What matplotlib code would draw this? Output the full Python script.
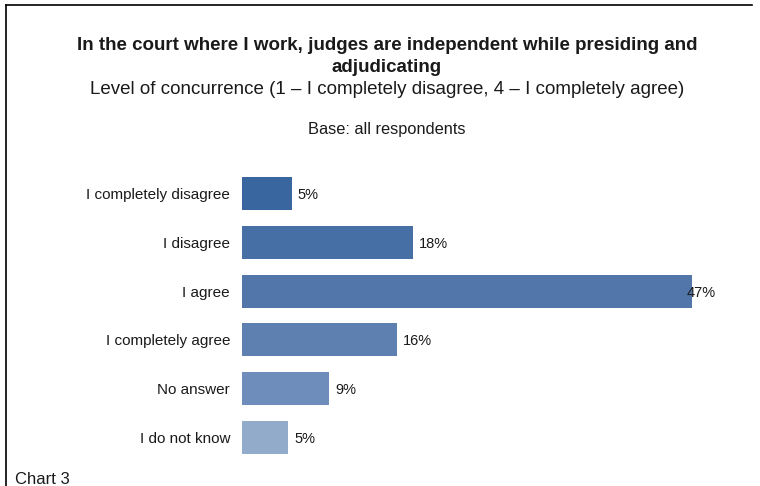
import matplotlib.pyplot as plt
from matplotlib.lines import Line2D

# ── Data ────────────────────────────────────────────────────────────────────
categories = [
    'I completely disagree',
    'I disagree',
    'I agree',
    'I completely agree',
    'No answer',
    'I do not know',
]
values = [5.2, 17.9, 47.0, 16.2, 9.1, 4.8]
value_labels = ['5%', '18%', '47%', '16%', '9%', '5%']
bar_colors = ['#3a66a0', '#4670a5', '#5276aa', '#5d80b0', '#6e8dba', '#93abcb']

plt.rcParams['font.family'] = ['Liberation Sans', 'DejaVu Sans']
text_color = '#1a1a1a'

W, H = 760, 486
fig = plt.figure(figsize=(W / 100, H / 100), dpi=100)

# ── Frame (top and left border) ─────────────────────────────────────────────
fig.add_artist(Line2D([6 / W, 752 / W], [1 - 5 / H, 1 - 5 / H],
                      color='black', lw=1.2, transform=fig.transFigure))
fig.add_artist(Line2D([6 / W, 6 / W], [1 - 5 / H, 0],
                      color='black', lw=1.2, transform=fig.transFigure))

# ── Titles (baseline positions) ─────────────────────────────────────────────
cx = 387 / W
fig.text(cx, 1 - 50 / H,
         'In the court where I work, judges are independent while presiding and',
         ha='center', va='baseline', fontsize=13.5, fontweight='bold', color=text_color)
fig.text(cx, 1 - 72 / H, 'adjudicating',
         ha='center', va='baseline', fontsize=13.5, fontweight='bold', color=text_color)
fig.text(cx, 1 - 94 / H,
         'Level of concurrence (1 \u2013 I completely disagree, 4 \u2013 I completely agree)',
         ha='center', va='baseline', fontsize=13.5, color=text_color)
fig.text(cx, 1 - 134 / H, 'Base: all respondents',
         ha='center', va='baseline', fontsize=11.8, color=text_color)
fig.text(15 / W, 1 - 484 / H, 'Chart 3',
         ha='left', va='baseline', fontsize=12, color=text_color)

# ── Bars ────────────────────────────────────────────────────────────────────
ax = fig.add_axes([242 / W, 0.0496, 478.7 / W, 0.6025])
y_pos = list(range(len(categories)))
bars = ax.barh(y_pos, values, height=0.676, color=bar_colors)

ax.set_xlim(0, 50)
ax.set_ylim(len(categories) - 0.5, -0.5)
ax.set_yticks(y_pos)
ax.set_yticklabels(categories, fontsize=11, color=text_color, va='center_baseline')
ax.tick_params(axis='y', length=0, pad=8.6)
ax.set_xticks([])
for s in ax.spines.values():
    s.set_visible(False)
ax.patch.set_alpha(0)

# ── Value labels ────────────────────────────────────────────────────────────
max_v = max(values)
for bar, val, lab in zip(bars, values, value_labels):
    dx = -5 if val == max_v else 6
    ax.annotate(lab, (val, bar.get_y() + bar.get_height() / 2),
                xytext=(dx * 0.72, 0), textcoords='offset points',
                ha='left', va='center_baseline', fontsize=10.5, color=text_color)

fig.savefig('out.png', dpi=100)
